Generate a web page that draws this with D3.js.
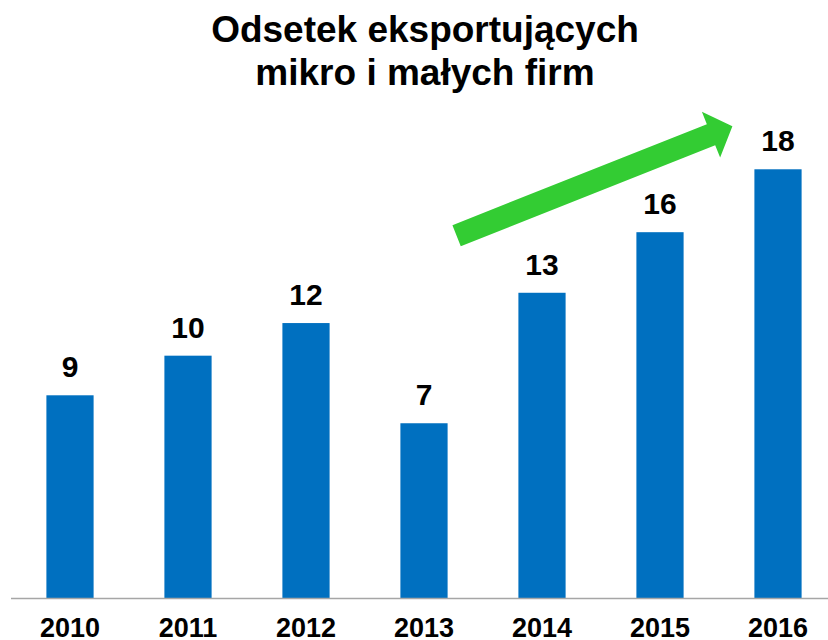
<!DOCTYPE html>
<html>
<head>
<meta charset="utf-8">
<title>Odsetek eksportujących</title>
<script src="https://cdn.jsdelivr.net/npm/d3@7"></script>
<style>
body { margin: 0; background: #fff; font-family: "Liberation Sans", Arial, sans-serif; }
</style>
</head>
<body>
<svg width="828" height="640"></svg>
<script>
var v_Years  = ["2010", "2011", "2012", "2013", "2014", "2015", "2016"];
var v_Values = [8.7, 10.4, 11.8, 7.5, 13.1, 15.7, 18.4];
var v_Labels = ["9", "10", "12", "7", "13", "16", "18"];
var v_Title  = ["Odsetek eksportujących", "mikro i małych firm"];

var v_SVG = d3.select("svg");

var x = d3.scaleBand().domain(v_Years).range([11, 837]).paddingInner(0.6).paddingOuter(0.3);
var y = d3.scaleLinear().domain([0, 20]).range([598, 132]);

// title
v_SVG.append("text")
  .attr("x", 425)
  .attr("y", 42)
  .attr("text-anchor", "middle")
  .attr("font-weight", "bold")
  .attr("font-size", 37)
  .selectAll("tspan").data(v_Title).enter().append("tspan")
  .attr("x", 425)
  .attr("dy", function(d, i) { return i == 0 ? 0 : 43; })
  .text(function(d) { return d; });

// bars
v_SVG.selectAll("rect.bar").data(v_Years).enter().append("rect")
  .attr("class", "bar")
  .attr("x", function(d) { return x(d); })
  .attr("y", function(d, i) { return y(v_Values[i]); })
  .attr("width", x.bandwidth())
  .attr("height", function(d, i) { return y(0) - y(v_Values[i]); })
  .attr("fill", "#0070C0");

// value labels
v_SVG.selectAll("text.val").data(v_Years).enter().append("text")
  .attr("class", "val")
  .attr("x", function(d) { return x(d) + x.bandwidth() / 2; })
  .attr("y", function(d, i) { return y(v_Values[i]) - 18; })
  .attr("text-anchor", "middle")
  .attr("font-weight", "bold")
  .attr("font-size", 30)
  .text(function(d, i) { return v_Labels[i]; });

// axis line
v_SVG.append("line")
  .attr("x1", 11).attr("x2", 828)
  .attr("y1", y(0) + 0.5).attr("y2", y(0) + 0.5)
  .attr("stroke", "#A6A6A6")
  .attr("stroke-width", 1.5);

// year labels
v_SVG.selectAll("text.year").data(v_Years).enter().append("text")
  .attr("class", "year")
  .attr("x", function(d) { return x(d) + x.bandwidth() / 2; })
  .attr("y", 637)
  .attr("text-anchor", "middle")
  .attr("font-weight", "bold")
  .attr("font-size", 27)
  .text(function(d) { return d; });

// green trend arrow
var p0 = [x("2013") + x.bandwidth() + 9, y(15.55)];
var p1 = [x("2016") - 22, y(20.25)];
var dx = p1[0] - p0[0], dy = p1[1] - p0[1];
var len = Math.sqrt(dx * dx + dy * dy);
var ux = dx / len, uy = dy / len;
var nx = -uy, ny = ux;
var sw = 11.3, hw = 24.7, hl = 23;

function pt(a, b) { return [p0[0] + ux * a + nx * b, p0[1] + uy * a + ny * b]; }

var v_Arrow = [pt(0, -sw), pt(len - hl, -sw), pt(len - hl, -hw), pt(len, 0),
               pt(len - hl, hw), pt(len - hl, sw), pt(0, sw)];

v_SVG.append("polygon")
  .attr("points", v_Arrow.map(function(p) { return p.join(","); }).join(" "))
  .attr("fill", "#33CC33");
</script>
</body>
</html>
